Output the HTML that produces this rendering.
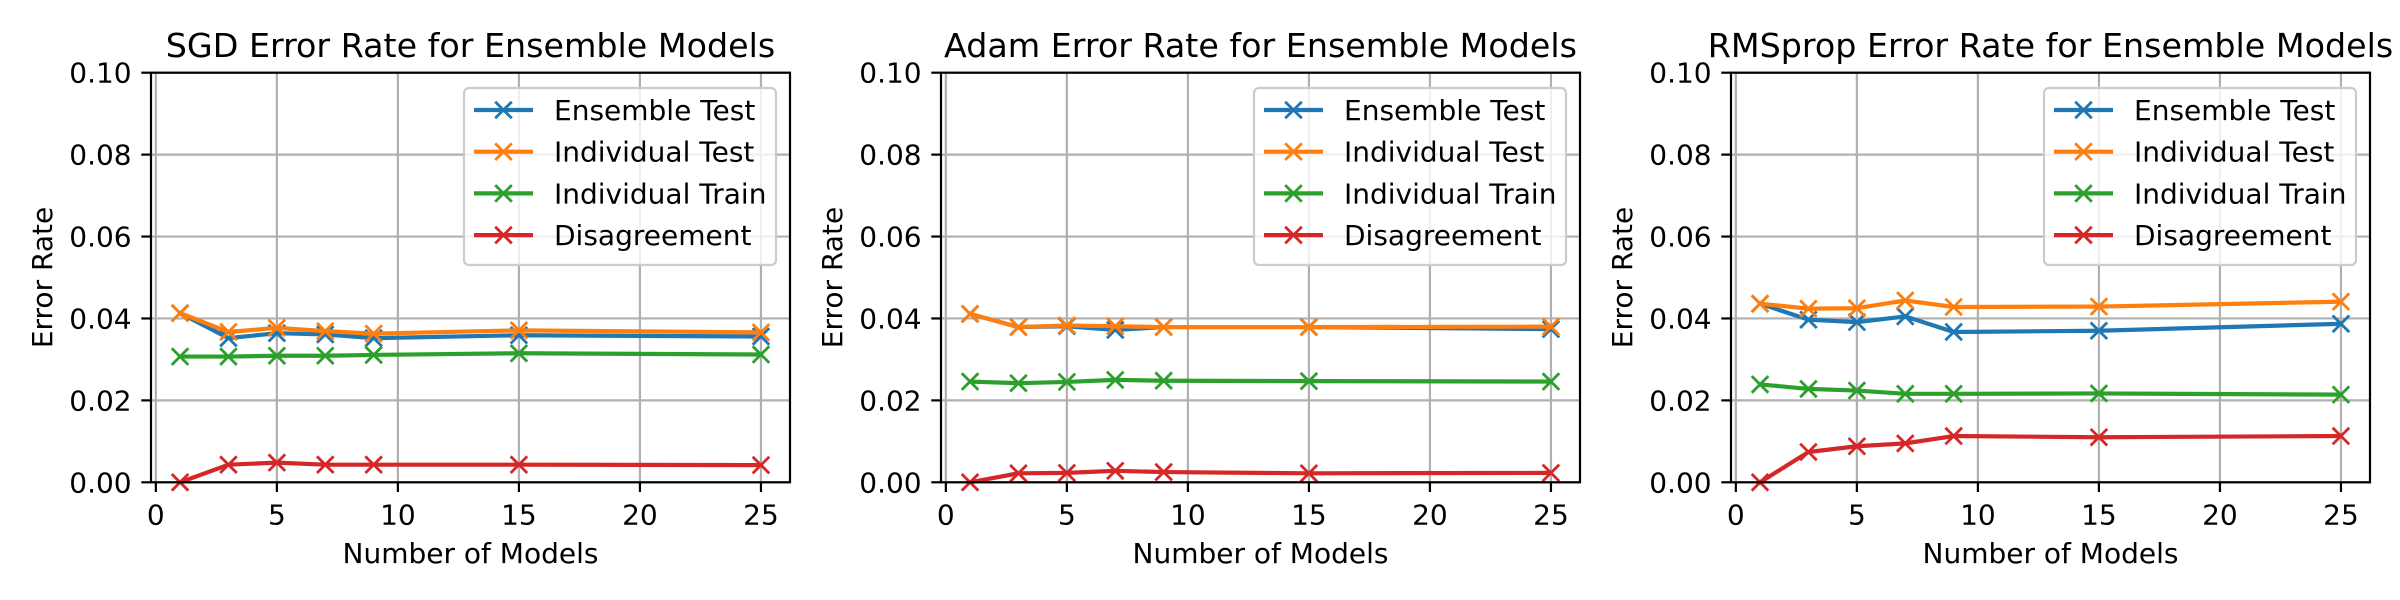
<!DOCTYPE html>
<html><head><meta charset="utf-8"><style>
html,body{margin:0;padding:0;background:#fff;}
svg{display:block;font-family:"DejaVu Sans","Liberation Sans",sans-serif;}
</style></head><body>
<svg id="fig" width="2400" height="600" viewBox="0 0 2400 600" xmlns="http://www.w3.org/2000/svg"></svg>
<script>
const xs = [1,3,5,7,9,15,25];
const xTicks = [0,5,10,15,20,25];
const yTicks = [0,0.02,0.04,0.06,0.08,0.10];
const yTickLabels = ["0.00","0.02","0.04","0.06","0.08","0.10"];
const panelTitles = ["SGD Error Rate for Ensemble Models","Adam Error Rate for Ensemble Models","RMSprop Error Rate for Ensemble Models"];
const seriesNames = ["Ensemble Test","Individual Test","Individual Train","Disagreement"];
const sgdEnsembleTest = [0.0413,0.0352,0.0364,0.0361,0.0352,0.0359,0.0356];
const sgdIndividualTest = [0.0413,0.0367,0.0377,0.0369,0.0363,0.0371,0.0366];
const sgdIndividualTrain = [0.0307,0.0307,0.0309,0.0309,0.0311,0.0315,0.0312];
const sgdDisagreement = [0.0,0.0043,0.0048,0.0043,0.0043,0.0043,0.0042];
const adamEnsembleTest = [0.0411,0.0379,0.0381,0.0372,0.0379,0.0379,0.0374];
const adamIndividualTest = [0.0411,0.0379,0.0383,0.0381,0.0379,0.0379,0.0380];
const adamIndividualTrain = [0.0246,0.0242,0.0245,0.0250,0.0248,0.0247,0.0246];
const adamDisagreement = [0.0,0.0022,0.0023,0.0028,0.0025,0.0022,0.0023];
const rmsEnsembleTest = [0.0436,0.0397,0.0391,0.0405,0.0367,0.0370,0.0387];
const rmsIndividualTest = [0.0436,0.0424,0.0425,0.0444,0.0428,0.0429,0.0441];
const rmsIndividualTrain = [0.0239,0.0228,0.0224,0.0216,0.0216,0.0217,0.0214];
const rmsDisagreement = [0.0,0.0074,0.0088,0.0095,0.0113,0.0110,0.0113];

const panelsData = [
  [sgdEnsembleTest,sgdIndividualTest,sgdIndividualTrain,sgdDisagreement],
  [adamEnsembleTest,adamIndividualTest,adamIndividualTrain,adamDisagreement],
  [rmsEnsembleTest,rmsIndividualTest,rmsIndividualTrain,rmsDisagreement]
];
const colors = ["#1f77b4","#ff7f0e","#2ca02c","#d62728"];
const panelKeys = ["sgd","adam","rmsprop"];
const NS = "http://www.w3.org/2000/svg";
const svg = document.getElementById("fig");
function mk(tag, attrs, parent){
  const e = document.createElementNS(NS, tag);
  for (const k in attrs) e.setAttribute(k, attrs[k]);
  (parent||svg).appendChild(e);
  return e;
}
const W = 639, TOP = 72.7, BOT = 482.3;
const lefts = [151, 941, 1731];
const XMIN = -0.2, XMAX = 26.2, YMIN = 0, YMAX = 0.1;
const FS = 28;

function drawX(g, cx, cy, color){
  const s = 8.3;
  mk("path",{d:`M${cx-s},${cy-s}L${cx+s},${cy+s}M${cx-s},${cy+s}L${cx+s},${cy-s}`,stroke:color,"stroke-width":2.8,fill:"none"},g);
}

panelsData.forEach((series, p) => {
  const L = lefts[p], R = L + W;
  const xS = v => L + (v - XMIN) / (XMAX - XMIN) * W;
  const yS = v => BOT - (v - YMIN) / (YMAX - YMIN) * (BOT - TOP);
  const g = mk("g",{});
  
  

  const grid = mk("g",{},g);
  
  
  xTicks.forEach(t => mk("line",{x1:xS(t),x2:xS(t),y1:TOP,y2:BOT,stroke:"#b0b0b0","stroke-width":2.2},grid));
  yTicks.forEach(t => mk("line",{x1:L,x2:R,y1:yS(t),y2:yS(t),stroke:"#b0b0b0","stroke-width":2.2},grid));

  series.forEach((vals, si) => {
    const sg = mk("g",{},g);
    
    
    const pts = xs.map((x,i)=>xS(x)+","+yS(vals[i])).join(" ");
    mk("polyline",{points:pts,fill:"none",stroke:colors[si],"stroke-width":4.2,"stroke-linejoin":"round","stroke-linecap":"square"},sg);
    xs.forEach((x,i)=>drawX(sg, xS(x), yS(vals[i]), colors[si]));
  });

  const sp = mk("rect",{x:L,y:TOP,width:W,height:BOT-TOP,fill:"none",stroke:"#000","stroke-width":2.2},g);
  
  

  xTicks.forEach(t => {
    mk("line",{x1:xS(t),x2:xS(t),y1:BOT,y2:BOT+9.7,stroke:"#000","stroke-width":2.2},g);
    const tx = mk("text",{x:xS(t),y:BOT+42,"text-anchor":"middle","font-size":FS,fill:"#000"},g);
    tx.textContent = String(t);
    
    
  });
  yTicks.forEach((t,i) => {
    mk("line",{x1:L-9.7,x2:L,y1:yS(t),y2:yS(t),stroke:"#000","stroke-width":2.2},g);
    const ty = mk("text",{x:L-19.4,y:yS(t)+10,"text-anchor":"end","font-size":FS,fill:"#000"},g);
    ty.textContent = yTickLabels[i];
    
    
  });

  const title = mk("text",{x:L+W/2,y:57,"text-anchor":"middle","font-size":33.3,fill:"#000"},g);
  title.textContent = panelTitles[p];
  
  

  const xl = mk("text",{x:L+W/2,y:563,"text-anchor":"middle","font-size":FS,fill:"#000"},g);
  xl.textContent = "Number of Models";
  
  

  const ycx = L - 99, ycy = (TOP+BOT)/2;
  const yl = mk("text",{x:ycx,y:ycy,"text-anchor":"middle","font-size":FS,fill:"#000",transform:`rotate(-90 ${ycx} ${ycy})`},g);
  yl.textContent = "Error Rate";
  
  

  const lg = mk("g",{},g);
  
  
  const lw = 312, lx = R - 14 - lw, ly = 88, lh = 177;
  mk("rect",{x:lx,y:ly,width:lw,height:lh,rx:5,ry:5,fill:"#fff","fill-opacity":0.8,stroke:"#cccccc","stroke-width":2.2},lg);
  seriesNames.forEach((nm, si) => {
    const cy = ly + 22 + si * 41.7;
    const e = mk("g",{},lg);
    
    
    mk("line",{x1:lx+10,x2:lx+69,y1:cy,y2:cy,stroke:colors[si],"stroke-width":4.2},e);
    drawX(e, lx+39.5, cy, colors[si]);
    const t = mk("text",{x:lx+90,y:cy+10,"font-size":FS,fill:"#000"},e);
    t.textContent = nm;
  });
});
</script>
</body></html>
